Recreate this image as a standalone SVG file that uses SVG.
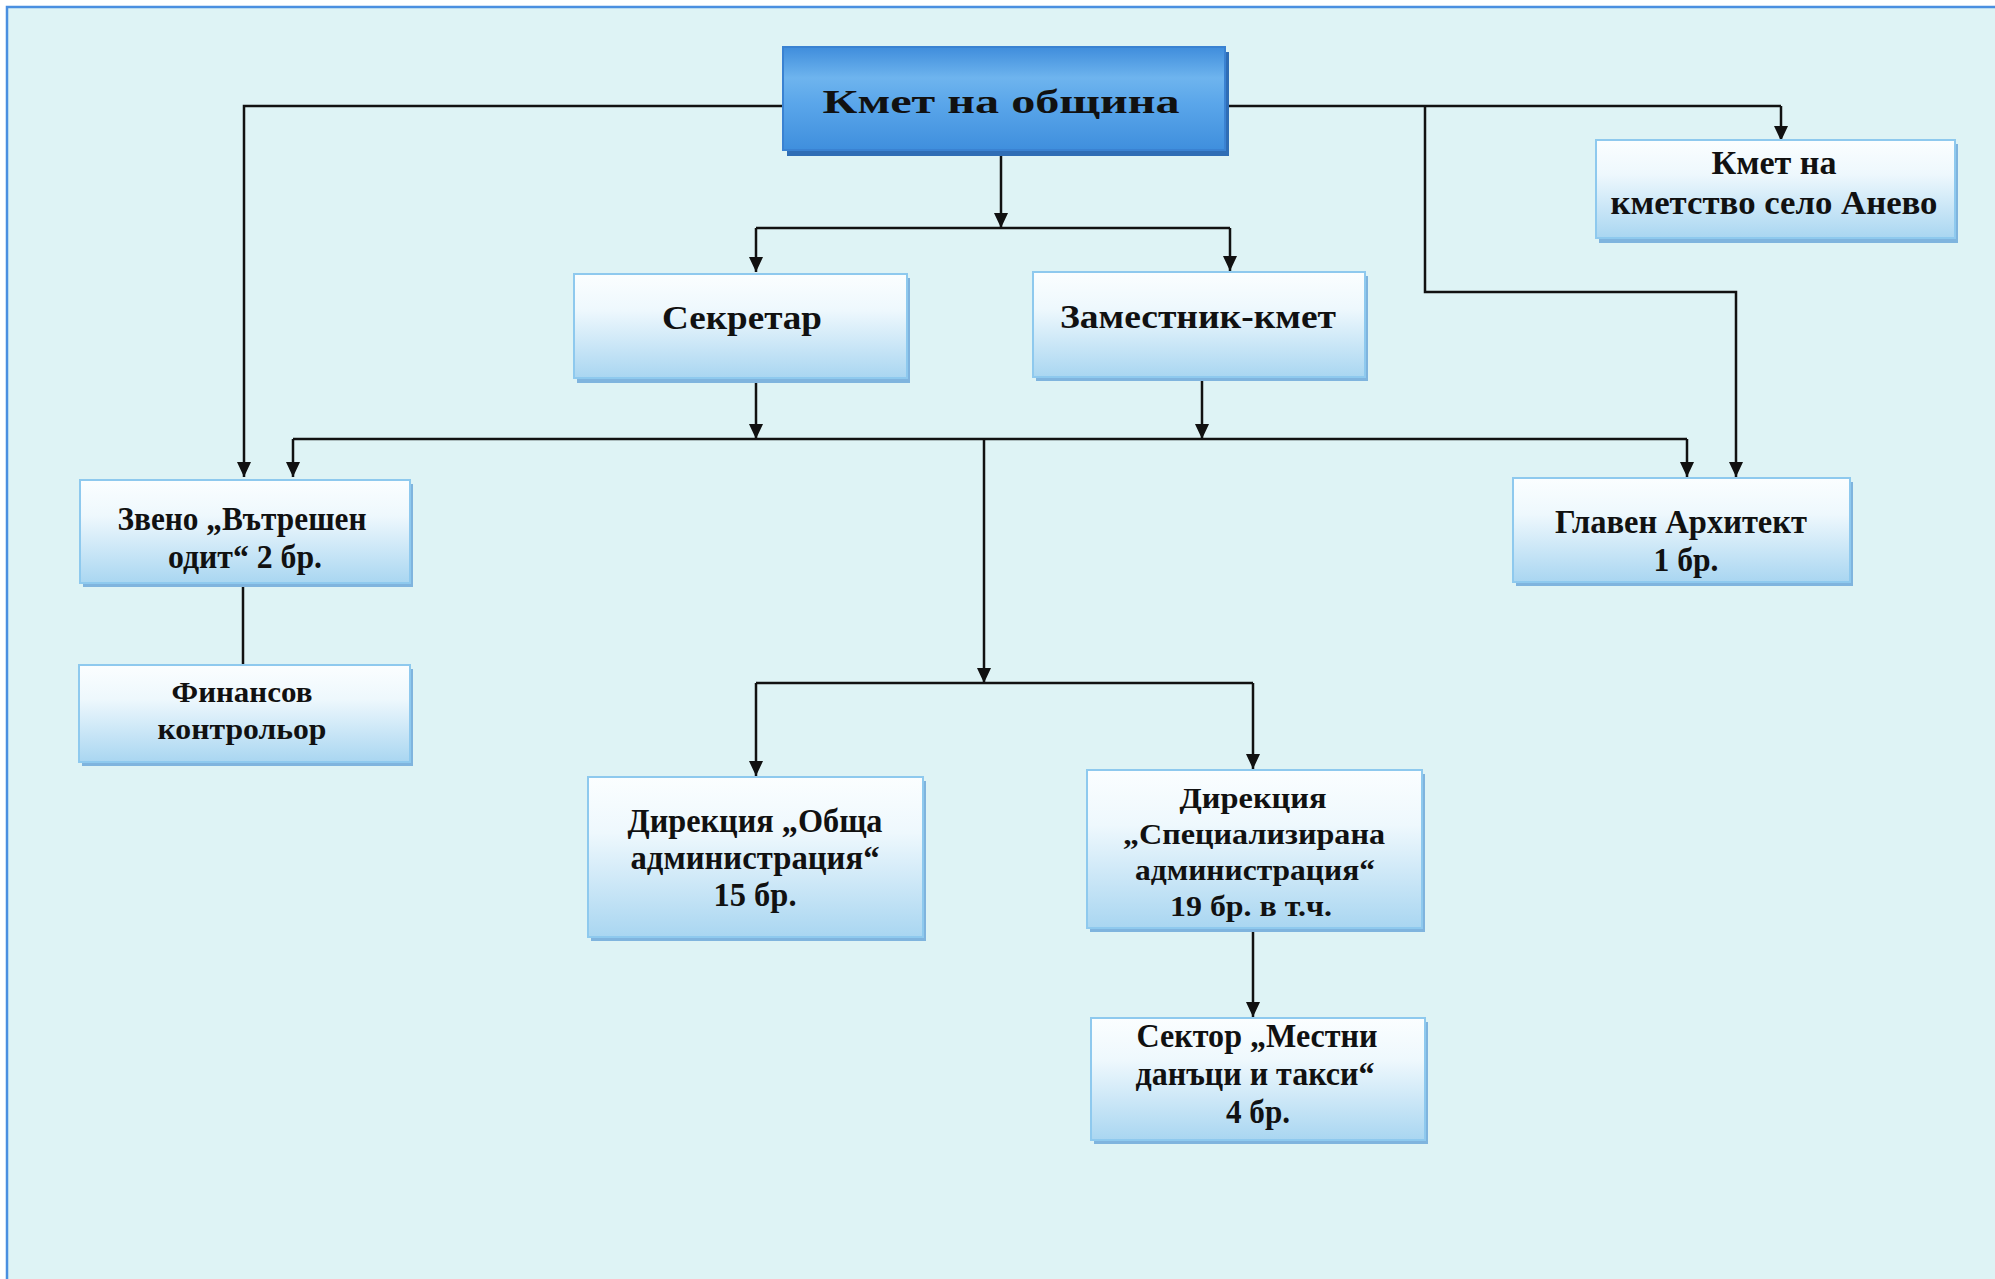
<svg xmlns="http://www.w3.org/2000/svg" width="1995" height="1279" viewBox="0 0 1995 1279">
<defs>
  <linearGradient id="gBox" x1="0" y1="0" x2="0" y2="1">
    <stop offset="0" stop-color="#fbfeff"/>
    <stop offset="0.35" stop-color="#eef8fd"/>
    <stop offset="1" stop-color="#a9d6f1"/>
  </linearGradient>
  <linearGradient id="gTop" x1="0" y1="0" x2="0" y2="1">
    <stop offset="0" stop-color="#3f8ddc"/>
    <stop offset="0.3" stop-color="#6eb4ee"/>
    <stop offset="0.55" stop-color="#5aa6ea"/>
    <stop offset="1" stop-color="#3f8fdd"/>
  </linearGradient>
  <marker id="arr" viewBox="0 0 15 14" refX="15" refY="7" markerWidth="15" markerHeight="14" markerUnits="userSpaceOnUse" orient="auto">
    <path d="M0,0 L15,7 L0,14 z" fill="#111"/>
  </marker>
</defs>
<style>
  .box { fill: url(#gBox); stroke: #8ec9ee; stroke-width: 2; }
  .shadow { fill: #7fb4de; }
  .top { fill: url(#gTop); stroke: #3a82d2; stroke-width: 2; }
  .topshadow { fill: #2f6db5; }
  .t { font-family: "Liberation Serif", "Times New Roman", serif; font-weight: bold; font-size: 33px; fill: #111; text-anchor: middle; }
  .s { font-size: 30px; }
  .conn { fill: none; stroke: #111; stroke-width: 2.5; }
  .arrow { marker-end: url(#arr); }
</style>
<rect x="0" y="0" width="1995" height="1279" fill="#ffffff"/>
<rect x="7" y="7" width="2000" height="1290" fill="#def3f5" stroke="#4a8fe0" stroke-width="2.5"/>

<g id="connectors">
  <path class="conn arrow" d="M783,106 H244 V477"/>
  <path class="conn" d="M1225,106 H1781"/>
  <path class="conn arrow" d="M1781,106 V141"/>
  <path class="conn arrow" d="M1425,106 V292 H1736 V477"/>
  <path class="conn arrow" d="M1001,150 V228"/>
  <path class="conn" d="M756,228 H1230"/>
  <path class="conn arrow" d="M756,228 V272"/>
  <path class="conn arrow" d="M1230,228 V271"/>
  <path class="conn arrow" d="M756,380 V439"/>
  <path class="conn arrow" d="M1202,378 V439"/>
  <path class="conn" d="M293,439 H1687"/>
  <path class="conn arrow" d="M293,439 V477"/>
  <path class="conn arrow" d="M1687,439 V477"/>
  <path class="conn arrow" d="M984,439 V683"/>
  <path class="conn" d="M756,683 H1253"/>
  <path class="conn arrow" d="M756,683 V776"/>
  <path class="conn arrow" d="M1253,683 V769"/>
  <path class="conn arrow" d="M1253,930 V1017"/>
  <path class="conn" d="M243,583 V665"/>
</g>

<g id="kmet">
  <rect class="topshadow" x="787" y="52" width="442" height="104"/>
  <rect class="top" x="783" y="47" width="442" height="103"/>
  <text class="t" x="1001" y="113" font-size="44" textLength="357" lengthAdjust="spacingAndGlyphs">Кмет на община</text>
</g>

<g id="sekretar">
  <rect class="shadow" x="577" y="278" width="333" height="105"/>
  <rect class="box" x="574" y="274" width="333" height="104"/>
  <text class="t" x="742" y="329" font-size="37" textLength="160" lengthAdjust="spacingAndGlyphs">Секретар</text>
</g>

<g id="zamestnik">
  <rect class="shadow" x="1036" y="276" width="332" height="105"/>
  <rect class="box" x="1033" y="272" width="332" height="105"/>
  <text class="t" x="1198" y="328" font-size="37" textLength="276" lengthAdjust="spacingAndGlyphs">Заместник-кмет</text>
</g>

<g id="kmetstvo">
  <rect class="shadow" x="1599" y="144" width="359" height="99"/>
  <rect class="box" x="1596" y="140" width="359" height="98"/>
  <text class="t" x="1774" y="174" textLength="125" lengthAdjust="spacingAndGlyphs">Кмет на</text>
  <text class="t" x="1774" y="214" textLength="327" lengthAdjust="spacingAndGlyphs">кметство село Анево</text>
</g>

<g id="zveno">
  <rect class="shadow" x="83" y="484" width="330" height="103"/>
  <rect class="box" x="80" y="480" width="330" height="103"/>
  <text class="t" x="242" y="530" textLength="249" lengthAdjust="spacingAndGlyphs">Звено „Вътрешен</text>
  <text class="t" x="245" y="568" textLength="154" lengthAdjust="spacingAndGlyphs">одит“ 2 бр.</text>
</g>

<g id="glaven">
  <rect class="shadow" x="1516" y="482" width="337" height="104"/>
  <rect class="box" x="1513" y="478" width="337" height="104"/>
  <text class="t" x="1681" y="533" textLength="252" lengthAdjust="spacingAndGlyphs">Главен Архитект</text>
  <text class="t" x="1686" y="571" textLength="65" lengthAdjust="spacingAndGlyphs">1 бр.</text>
</g>

<g id="finansov">
  <rect class="shadow" x="82" y="669" width="331" height="97"/>
  <rect class="box" x="79" y="665" width="331" height="97"/>
  <text class="t s" x="242" y="702" textLength="141" lengthAdjust="spacingAndGlyphs">Финансов</text>
  <text class="t s" x="242" y="739" textLength="169" lengthAdjust="spacingAndGlyphs">контрольор</text>
</g>

<g id="obshta">
  <rect class="shadow" x="591" y="781" width="335" height="160"/>
  <rect class="box" x="588" y="777" width="335" height="160"/>
  <text class="t" x="755" y="832" textLength="255" lengthAdjust="spacingAndGlyphs">Дирекция „Обща</text>
  <text class="t" x="755" y="869" textLength="249" lengthAdjust="spacingAndGlyphs">администрация“</text>
  <text class="t" x="755" y="906" textLength="83" lengthAdjust="spacingAndGlyphs">15 бр.</text>
</g>

<g id="specializirana">
  <rect class="shadow" x="1090" y="774" width="335" height="158"/>
  <rect class="box" x="1087" y="770" width="335" height="158"/>
  <text class="t s" x="1253" y="808" textLength="147" lengthAdjust="spacingAndGlyphs">Дирекция</text>
  <text class="t s" x="1254" y="844" textLength="262" lengthAdjust="spacingAndGlyphs">„Специализирана</text>
  <text class="t s" x="1255" y="880" textLength="240" lengthAdjust="spacingAndGlyphs">администрация“</text>
  <text class="t s" x="1251" y="916" textLength="162" lengthAdjust="spacingAndGlyphs">19 бр. в т.ч.</text>
</g>

<g id="sektor">
  <rect class="shadow" x="1094" y="1022" width="334" height="122"/>
  <rect class="box" x="1091" y="1018" width="334" height="122"/>
  <text class="t" x="1257" y="1047" textLength="241" lengthAdjust="spacingAndGlyphs">Сектор „Местни</text>
  <text class="t" x="1255" y="1085" textLength="239" lengthAdjust="spacingAndGlyphs">данъци и такси“</text>
  <text class="t" x="1258" y="1123" textLength="64" lengthAdjust="spacingAndGlyphs">4 бр.</text>
</g>
</svg>
